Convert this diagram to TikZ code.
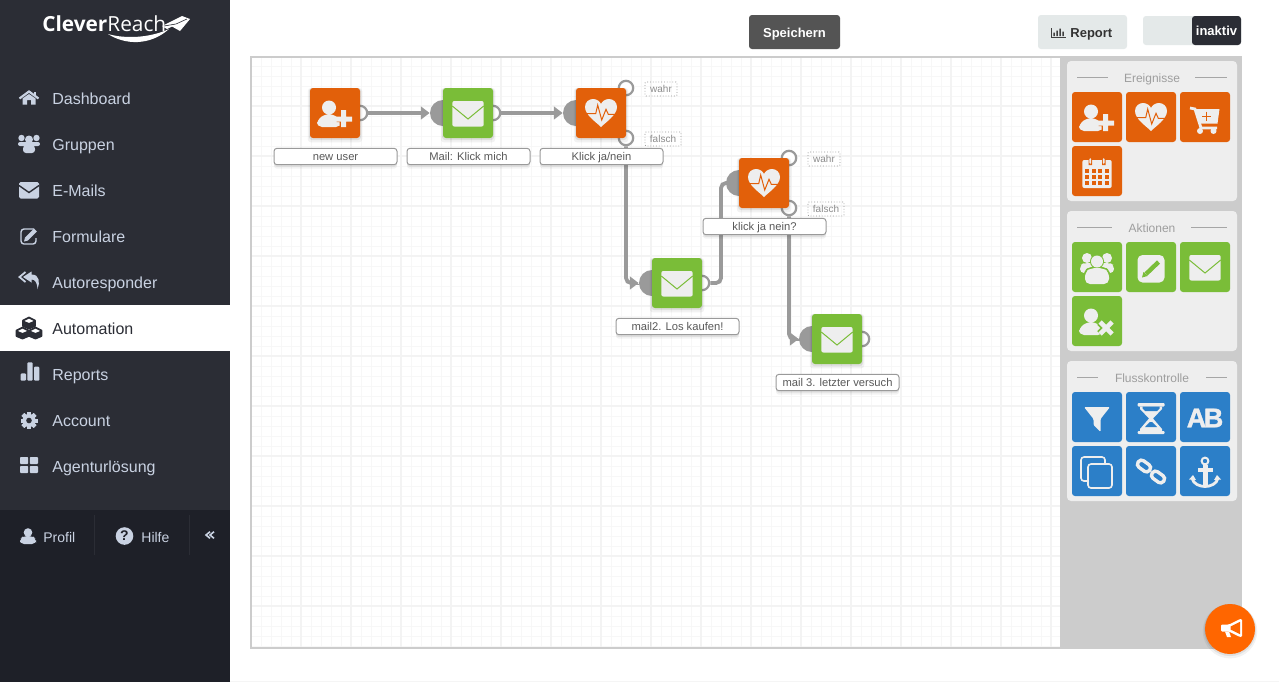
\documentclass[tikz,border=0pt]{standalone}
\usepackage{fontspec}
\setmainfont{Liberation Sans}
\newfontfamily\logofont{Open Sans}
\newfontfamily\abfont[BoldFeatures={FakeBold=1.4}]{Liberation Sans}
\usetikzlibrary{arrows.meta,shadows}

\definecolor{sidebar}{HTML}{2B2D35}
\definecolor{sidefoot}{HTML}{1E2028}
\definecolor{menutext}{HTML}{C9D2E2}
\definecolor{orangetile}{HTML}{E2600A}
\definecolor{greentile}{HTML}{7ABD38}
\definecolor{bluetile}{HTML}{2C7FC8}
\definecolor{tileink}{HTML}{EEEEEE}
\definecolor{wiregray}{HTML}{9A9A9A}
\definecolor{framegray}{HTML}{CCCCCC}
\definecolor{gridgray}{HTML}{F3F3F3}
\definecolor{gridlight}{HTML}{F7F7F7}
\definecolor{buttongray}{HTML}{E4E9E9}
\definecolor{fabcolor}{HTML}{FF6600}

\pgfdeclarelayer{page}
\pgfdeclarelayer{wires}
\pgfsetlayers{page,wires,main}

\tikzset{
    inks/.code 2 args={\colorlet{ink}{#1}\colorlet{back}{#2}},
    softshadow/.style={
        general shadow={fill=black, opacity=.05, shadow yshift=-1pt, shadow scale=1.09},
        general shadow={fill=black, opacity=.08, shadow yshift=-.5pt, shadow scale=1.04}},
    tile/.style={rectangle, rounded corners=1.5pt, minimum width=25pt, minimum height=25pt, inner sep=0pt, softshadow},
    nodelabel/.style={draw=wiregray, fill=white, rectangle, rounded corners=1.5pt, line width=.5pt, minimum width=61.5pt, minimum height=8.2pt, inner sep=0pt, text height=5pt, text depth=1pt, font=\fontsize{5.6}{6}\selectfont, text=black!65,
        general shadow={fill=black, opacity=.05, shadow yshift=-2pt, xscale=1.03, yscale=1.5},
        general shadow={fill=black, opacity=.07, shadow yshift=-1pt}},
    inport/.style={circle, fill=wiregray, minimum size=13pt, inner sep=0pt},
    outport/.style={circle, draw=wiregray, fill=white, line width=1.1pt, minimum size=7.2pt, inner sep=0pt},
    branchtag/.style={draw=black!42, densely dotted, line width=.4pt, rounded corners=.5pt, inner sep=0pt, minimum height=7pt, text height=4.5pt, text depth=1pt, font=\fontsize{5}{6}\selectfont, text=black!45},
    wire/.style={draw=wiregray, line width=1.9pt, rounded corners=2.5pt, -{Triangle[length=4.4pt,width=6.4pt]}},
    menuitem/.style={anchor=west, font=\fontsize{8}{9}\selectfont, text=menutext, inner sep=0pt, text height=7pt, text depth=1pt},
    footitem/.style={anchor=west, font=\fontsize{7}{8}\selectfont, text=menutext, inner sep=0pt, text height=6pt, text depth=1pt},
    paneltitle/.style={font=\fontsize{6}{7}\selectfont, text=black!38, inner sep=0pt, text height=5.5pt, text depth=1pt},
    panelrule/.style={draw=black!35, line width=.4pt},
    button/.style={rectangle, rounded corners=1.5pt, inner sep=0pt, text height=6pt, text depth=1pt, font=\bfseries\fontsize{6.5}{7}\selectfont},
    % tile icons
    pics/useradd/.style={code={
        \fill[ink] (-6,-5.5) circle (7);
        \fill[ink, rounded corners=2.5pt] (-18,14) -- (-18,7) -- (-10,1) -- (-2,1) -- (6,7) -- (6,14) -- cycle;
        \fill[back] (1.5,1) rectangle (15.5,9) (4.5,-2) rectangle (12.5,12);
        \fill[ink] (0,3.5) rectangle (17,8.5) (6,-3) rectangle (11,14);
    }},
    pics/userdel/.style={code={
        \fill[ink] (-6,-5.5) circle (7);
        \fill[ink, rounded corners=2.5pt] (-18,14) -- (-18,7) -- (-10,1) -- (-2,1) -- (6,7) -- (6,14) -- cycle;
        \draw[back, line width=4pt] (3,1) -- (15,13) (3,13) -- (15,1);
        \draw[ink, line width=2.3pt] (3,1) -- (15,13) (3,13) -- (15,1);
    }},
    pics/pulse/.style={code={
        \fill[ink] (0,14) .. controls (-5,9) and (-16,2) .. (-16,-6) .. controls (-16,-11) and (-12,-14) .. (-8,-14) .. controls (-4,-14) and (-1,-11.5) .. (0,-9) .. controls (1,-11.5) and (4,-14) .. (8,-14) .. controls (12,-14) and (16,-11) .. (16,-6) .. controls (16,2) and (5,9) .. (0,14) -- cycle;
        \draw[back, line width=.5pt] (-15,.7) -- (-5.3,.7) -- (-3.3,-8) -- (.7,7) -- (5,-3.7) -- (7.3,1.3) -- (15,1.3);
    }},
    pics/envelope/.style={code={
        \fill[ink, rounded corners=1pt] (-15.7,-12) rectangle (15.7,13.5);
        \draw[back, line width=.5pt] (-15.7,-7) -- (0,6) -- (15.7,-7);
    }},
    pics/cartplus/.style={code={
        \draw[ink, line width=1.4pt] (-15,-9) -- (-10,-8) -- (-4,11) -- (12,11);
        \fill[ink] (-10,-8) -- (14.5,-8) -- (12.5,6.5) -- (-5.5,6.5) -- cycle;
        \fill[ink] (-5,14) circle (3) (8.5,14) circle (3);
        \draw[back, line width=.5pt] (-3,-1) -- (6,-1) (1.5,-5.5) -- (1.5,3.5);
    }},
    pics/calendar/.style={code={
        \fill[ink, rounded corners=1pt] (-14.7,-11) rectangle (14.7,17);
        \fill[back] (-8.5,-14) rectangle (-5,-6) (5,-14) rectangle (8.5,-6);
        \fill[ink, rounded corners=.7pt] (-7.7,-13) rectangle (-5.8,-7) (5.8,-13) rectangle (7.7,-7);
        \foreach \col in {-11.8,-5.3,1.2,7.7} {
            \foreach \row in {-2,4,10} {
                \fill[back] (\col,\row) rectangle ++(4.2,4.2);
            }
        }
    }},
    pics/crowd/.style={code={
        \fill[ink] (-10,-9) circle (5) (10,-9) circle (5);
        \fill[ink, rounded corners=2pt] (-17,6) -- (-17,-2) -- (-13,-4) -- (13,-4) -- (17,-2) -- (17,6) -- cycle;
        \fill[back] (0,-5.5) circle (7);
        \fill[back, rounded corners=2.5pt] (-13.5,18) -- (-13.5,4) -- (-7,-.5) -- (7,-.5) -- (13.5,4) -- (13.5,18) -- cycle;
        \fill[ink] (0,-5.5) circle (6);
        \fill[ink, rounded corners=2.5pt] (-12,17) -- (-12,5) -- (-6,1) -- (6,1) -- (12,5) -- (12,17) -- cycle;
    }},
    pics/editbox/.style={code={
        \fill[ink, rounded corners=2.5pt] (-13.5,-12) rectangle (13.5,15.5);
        \draw[back, line width=2.2pt] (-5,7) -- (7.5,-5);
        \fill[back] (-9,10.5) -- (-7.5,5) -- (-3.5,9) -- cycle;
    }},
    pics/funnel/.style={code={
        \fill[ink, rounded corners=.6pt] (-13,-10) -- (13,-10) -- (3.5,2) -- (3.5,15) -- (-3.5,8) -- (-3.5,2) -- cycle;
    }},
    pics/hourglass/.style={code={
        \fill[ink, rounded corners=.5pt] (-13.5,-14) rectangle (13.5,-10.5) (-13.5,14) rectangle (13.5,17);
        \fill[ink] (-11,-10.5) -- (11,-10.5) -- (11,-8) -- (2,1.5) -- (11,12) -- (11,14) -- (-11,14) -- (-11,12) -- (-2,1.5) -- (-11,-8) -- cycle;
        \fill[back] (-8.5,-10.5) -- (8.5,-10.5) -- (8.5,-8.5) -- (6,-6) -- (-6,-6) -- (-8.5,-8.5) -- cycle;
        \fill[back] (-1.2,5) -- (1.2,5) -- (6,10) -- (-6,10) -- cycle;
    }},
    pics/copies/.style={code={
        \draw[ink, line width=.8pt, rounded corners=1.5pt] (-16,-14) rectangle (8,10);
        \draw[ink, fill=back, line width=.8pt, rounded corners=1.5pt] (-9,-7) rectangle (15,17);
    }},
    pics/chain/.style={code={
        \begin{scope}[shift={(-7,-5)}, rotate=-36]
            \draw[ink, line width=1.7pt, rounded corners=1.8pt] (-7,-4) rectangle (7,4);
        \end{scope}
        \begin{scope}[shift={(7,6)}, rotate=-36]
            \draw[ink, line width=1.7pt, rounded corners=1.8pt] (-7,-4) rectangle (7,4);
        \end{scope}
    }},
    pics/anchorsign/.style={code={
        \draw[ink, line width=1pt] (0,-10) circle (3.4);
        \fill[ink] (-2.5,-6) rectangle (2.5,15);
        \fill[ink] (-7.5,-3.5) rectangle (7.5,.8);
        \draw[ink, line width=1.4pt] (-13,7) .. controls (-12,13) and (-5,15.5) .. (0,15.5) .. controls (5,15.5) and (12,13) .. (13,7);
        \fill[ink] (-16,8.5) -- (-12,4) -- (-9,9) -- cycle (16,8.5) -- (12,4) -- (9,9) -- cycle;
    }},
    pics/bullhorn/.style={code={
        \fill[ink, rounded corners=.6pt] (-9,-3.5) -- (-1,-3.5) -- (10,-9) -- (12,-9) -- (12,9) -- (10,9) -- (-1,3.5) -- (-9,3.5) -- cycle;
        \fill[back] (.5,-1.5) -- (10,-6.2) -- (10,6.2) -- (.5,1.5) -- cycle;
        \fill[ink] (-5,3.5) -- (-1,3.5) -- (1,9) -- (-3,9) -- cycle;
    }},
    % menu icons
    pics/house/.style={code={
        \draw[ink, line width=1.1pt] (-9.5,.5) -- (0,-6.5) -- (9.5,.5);
        \fill[ink] (-6.5,.5) -- (0,-4) -- (6.5,.5) -- (6.5,6.5) -- (2,6.5) -- (2,2) -- (-2,2) -- (-2,6.5) -- (-6.5,6.5) -- cycle;
        \fill[ink] (4.5,-6.5) rectangle (7,-2.5);
    }},
    pics/people/.style={code={
        \fill[ink] (-7.5,-6) circle (3.2) (7.5,-6) circle (3.2) (0,-4.5) circle (4);
        \fill[ink, rounded corners=1pt] (-11,2) -- (-11,-2) -- (11,-2) -- (11,2) -- cycle;
        \fill[ink, rounded corners=1.5pt] (-6,9) -- (-6,2) -- (-3,0) -- (3,0) -- (6,2) -- (6,9) -- cycle;
    }},
    pics/letter/.style={code={
        \fill[ink, rounded corners=.8pt] (-10,-8) rectangle (10,8.5);
        \draw[back, line width=.7pt] (-10,-4.5) -- (0,2.5) -- (10,-4.5);
    }},
    pics/editform/.style={code={
        \draw[ink, line width=.7pt, rounded corners=1.5pt] (5,-7) -- (-8,-7) -- (-8,8) -- (7,8) -- (7,2);
        \draw[ink, line width=2pt] (-2.5,3) -- (6.5,-6);
        \fill[ink] (-5,5.5) -- (-4,1.5) -- (-1,4.5) -- cycle;
    }},
    pics/replyall/.style={code={
        \draw[ink, line width=.9pt] (-3.5,-9) -- (-9.5,-4) -- (-3.5,1);
        \fill[ink] (2.5,-9.5) -- (-6,-4) -- (2.5,1.5) -- (2.5,-1.5) .. controls (6,-1.5) and (8,1) .. (8.5,8) .. controls (11,2) and (11,-6.5) .. (2.5,-6.5) -- cycle;
    }},
    pics/cubes/.style={code={
        \foreach \cx/\cy in {0/-5, -6.5/5, 6.5/5} {
            \draw[ink, fill=back, line width=.9pt, line join=round, shift={(\cx,\cy)}] (0,-5.5) -- (6,-2.5) -- (6,3) -- (0,5.5) -- (-6,3) -- (-6,-2.5) -- cycle;
            \fill[ink, shift={(\cx,\cy)}] (0,0) -- (6,-2.5) -- (6,3) -- (0,5.5) -- (-6,3) -- (-6,-2.5) -- cycle;
        }
    }},
    pics/bars/.style={code={
        \fill[ink, rounded corners=.5pt] (-8.3,-.7) rectangle (-3,6.7) (-1.7,-11.7) rectangle (3.7,6.7) (5,-7.3) rectangle (10.3,6.7);
    }},
    pics/gear/.style={code={
        \foreach \ang in {0,45,...,315} {
            \fill[ink, rotate=\ang] (-2,-8.5) rectangle (2,8.5);
        }
        \fill[ink] (0,0) circle (6.6);
        \fill[back] (0,0) circle (2.8);
    }},
    pics/squares/.style={code={
        \fill[ink, rounded corners=.4pt] (-9,-8) rectangle (-.8,-1) (.8,-8) rectangle (9,-1) (-9,1) rectangle (-.8,8) (.8,1) rectangle (9,8);
    }},
    pics/profile/.style={code={
        \fill[ink] (0,-3.5) circle (4.3);
        \fill[ink, rounded corners=2pt] (-8,8) -- (-8,3) -- (-4.5,0) -- (4.5,0) -- (8,3) -- (8,8) -- cycle;
    }},
    pics/backchevrons/.style={code={
        \draw[ink, line width=.8pt] (0,-3.3) -- (-4,0) -- (0,3.3) (4,-3.3) -- (0,0) -- (4,3.3);
    }},
    pics/smallchart/.style={code={
        \draw[ink, line width=.5pt] (-7,-4.5) -- (-7,4.5) -- (7,4.5);
        \fill[ink] (-5.2,0) rectangle (-3.6,3.6) (-2.2,-2) rectangle (-.6,3.6) (.8,-4) rectangle (2.4,3.6) (3.8,-1) rectangle (5.4,3.6);
    }},
}

\begin{document}
\begin{tikzpicture}[x=.5pt, y=-.5pt]
    \useasboundingbox (0,0) rectangle (1279,682);

    \begin{pgfonlayer}{page}
        % Sidebar and page frame
        \fill[white] (0,0) rectangle (1279,682);
        \fill[sidebar] (0,0) rectangle (230,682);
        \fill[sidefoot] (0,510) rectangle (230,682);
        \fill[white] (0,305) rectangle (230,351);
        \draw[sidebar, line width=.4pt] (94.5,515) -- (94.5,555) (189.5,515) -- (189.5,555);
        \fill[black!4] (230,681) rectangle (1279,682);

        % Canvas with its grid
        \fill[framegray] (250,56) rectangle (1242,649);
        \fill[white] (252,58) rectangle (1060,647);
        \begin{scope}
            \clip (252,58) rectangle (1060,647);
            \foreach \gx in {261,271,...,1060} {
                \draw[gridlight, line width=.45pt] (\gx,58) -- (\gx,647);
            }
            \foreach \gy in {66,76,...,647} {
                \draw[gridlight, line width=.45pt] (252,\gy) -- (1060,\gy);
            }
            \foreach \gx in {301,351,...,1060} {
                \draw[gridgray, line width=.9pt] (\gx,58) -- (\gx,647);
            }
            \foreach \gy in {106,156,...,647} {
                \draw[gridgray, line width=.9pt] (252,\gy) -- (1060,\gy);
            }
        \end{scope}

        % Panels on the right
        \fill[tileink, rounded corners=2pt] (1067,61) rectangle (1237,201);
        \fill[tileink, rounded corners=2pt] (1067,211) rectangle (1237,351);
        \fill[tileink, rounded corners=2pt] (1067,361) rectangle (1237,501);
        \draw[panelrule] (1077,77.5) -- (1108,77.5) (1195,77.5) -- (1227,77.5);
        \draw[panelrule] (1077,227.5) -- (1112,227.5) (1191,227.5) -- (1227,227.5);
        \draw[panelrule] (1077,377.5) -- (1098,377.5) (1206,377.5) -- (1227,377.5);
    \end{pgfonlayer}

    % Logo
    \node[anchor=west, inner sep=0pt, text=white, font=\logofont\fontsize{10.4}{11}\selectfont] (logo) at (42,24) {\textbf{Clever}Reach};
    \fill[white] (108,34) .. controls (125,45) and (150,46) .. (169,29) .. controls (150,38) and (125,39) .. (108,34) -- cycle;
    \fill[white] (162,26) -- (182,16) -- (190,19) -- (180,31) -- (172,26.5) -- (167,29) -- cycle;
    \draw[sidebar, line width=.3pt] (164,26) -- (176,24) -- (187,19);

    % Menu
    \pic[inks={menutext}{sidebar}] at (29,98) {house};
    \pic[inks={menutext}{sidebar}] at (29,144) {people};
    \pic[inks={menutext}{sidebar}] at (29,190) {letter};
    \pic[inks={menutext}{sidebar}] at (29,236) {editform};
    \pic[inks={menutext}{sidebar}] at (29,281) {replyall};
    \pic[inks={sidebar}{white}] at (29,328) {cubes};
    \pic[inks={menutext}{sidebar}] at (29,374) {bars};
    \pic[inks={menutext}{sidebar}] at (29,420.5) {gear};
    \pic[inks={menutext}{sidebar}] at (29,465) {squares};
    \node[menuitem] (dashboard) at (52,98) {Dashboard};
    \node[menuitem] (gruppen) at (52,144) {Gruppen};
    \node[menuitem] (emails) at (52,190) {E-Mails};
    \node[menuitem] (formulare) at (52,236) {Formulare};
    \node[menuitem] (autoresponder) at (52,282) {Autoresponder};
    \node[menuitem, text=sidebar] (automation) at (52,328) {Automation};
    \node[menuitem] (reports) at (52,374) {Reports};
    \node[menuitem] (account) at (52,420) {Account};
    \node[menuitem] (agentur) at (52,466) {Agenturlösung};

    % Sidebar footer
    \pic[inks={menutext}{sidefoot}] at (28,536) {profile};
    \node[footitem] (profil) at (43,537) {Profil};
    \node[circle, fill=menutext, minimum size=8.8pt, inner sep=0pt, text=sidefoot, font=\bfseries\fontsize{7}{8}\selectfont] (helpmark) at (124.5,536) {?};
    \node[footitem] (hilfe) at (141,537) {Hilfe};
    \pic[inks={menutext}{sidefoot}] at (210,535) {backchevrons};

    % Top buttons
    \node[button, fill=black!67, text=white, minimum width=45.5pt, minimum height=17pt] (speichern) at (794.5,32) {Speichern};
    \node[button, fill=buttongray, minimum width=44.5pt, minimum height=17pt] (reportbtn) at (1082.5,32) {};
    \pic[inks={black!75}{white}] at (1058.5,32.5) {smallchart};
    \node[anchor=west, inner sep=0pt, text height=6pt, text depth=1pt, text=black!80, font=\bfseries\fontsize{6.5}{7}\selectfont] (reporttext) at (1070,32) {Report};
    \node[button, fill=buttongray, minimum width=49pt, minimum height=14.5pt] (togglebase) at (1192,30.5) {};
    \fill[sidebar, rounded corners=1.5pt] (1192,16) rectangle (1241,45);
    \node[inner sep=0pt, text height=6pt, text depth=1pt, text=white, font=\bfseries\fontsize{6.5}{7}\selectfont] (inaktiv) at (1216.5,30) {inaktiv};

    % Input and output dots
    \node[outport] (outuser) at (360,113) {};
    \node[inport] (inmail1) at (443,113) {};
    \node[outport] (outmail1) at (493,113) {};
    \node[inport] (inheart1) at (576,113) {};
    \node[outport] (trueheart1) at (626,88) {};
    \node[outport] (falseheart1) at (626,138) {};
    \node[inport] (inmail2) at (652,283) {};
    \node[outport] (outmail2) at (702,283) {};
    \node[inport] (inheart2) at (739,183) {};
    \node[outport] (trueheart2) at (789,158) {};
    \node[outport] (falseheart2) at (789,208) {};
    \node[inport] (inmail3) at (812,339) {};
    \node[outport] (outmail3) at (862,339) {};
    \coordinate (bend) at (721,233);

    % Draw the connections
    \begin{pgfonlayer}{wires}
        \draw[wire] (outuser.east) -- (inmail1.west);
        \draw[wire] (outmail1.east) -- (inheart1.west);
        \draw[wire] (falseheart1.south) |- (inmail2.west);
        \draw[wire] (outmail2.east) -| (bend) |- (inheart2.west);
        \draw[wire] (falseheart2.south) |- (inmail3.west);
    \end{pgfonlayer}

    % Draw the flow cells
    \node[tile, fill=orangetile] (newuser) at (335,113) {};
    \node[tile, fill=greentile] (mail1) at (468,113) {};
    \node[tile, fill=orangetile] (heart1) at (601,113) {};
    \node[tile, fill=greentile] (mail2) at (677,283) {};
    \node[tile, fill=orangetile] (heart2) at (764,183) {};
    \node[tile, fill=greentile] (mail3) at (837,339) {};
    \pic[inks={tileink}{orangetile}] at (335,113) {useradd};
    \pic[inks={tileink}{greentile}] at (468,113) {envelope};
    \pic[inks={tileink}{orangetile}] at (601,113) {pulse};
    \pic[inks={tileink}{greentile}] at (677,283) {envelope};
    \pic[inks={tileink}{orangetile}] at (764,183) {pulse};
    \pic[inks={tileink}{greentile}] at (837,339) {envelope};

    % Add the captions
    \node[nodelabel] (labeluser) at (335.5,156.5) {new user};
    \node[nodelabel] (labelmail1) at (468.5,156.5) {Mail: Klick mich};
    \node[nodelabel] (labelheart1) at (601.5,156.5) {Klick ja/nein};
    \node[nodelabel] (labelmail2) at (677.5,326.5) {mail2. Los kaufen!};
    \node[nodelabel] (labelheart2) at (764.5,226.5) {klick ja nein?};
    \node[nodelabel] (labelmail3) at (837.5,382.5) {mail 3. letzter versuch};
    \node[branchtag, minimum width=16pt] (wahr1) at (661,89) {wahr};
    \node[branchtag, minimum width=18pt] (falsch1) at (663,139) {falsch};
    \node[branchtag, minimum width=16pt] (wahr2) at (824,159) {wahr};
    \node[branchtag, minimum width=18pt] (falsch2) at (826,209) {falsch};

    % Panel titles
    \node[paneltitle] (ereignisse) at (1152,77.5) {Ereignisse};
    \node[paneltitle] (aktionen) at (1152,227.5) {Aktionen};
    \node[paneltitle] (fluss) at (1152,377.5) {Flusskontrolle};

    % Panel cells
    \fill[orangetile, rounded corners=1.5pt] (1072,92) rectangle ++(50,50) (1126,92) rectangle ++(50,50) (1180,92) rectangle ++(50,50) (1072,146) rectangle ++(50,50);
    \fill[greentile, rounded corners=1.5pt] (1072,242) rectangle ++(50,50) (1126,242) rectangle ++(50,50) (1180,242) rectangle ++(50,50) (1072,296) rectangle ++(50,50);
    \fill[bluetile, rounded corners=1.5pt] (1072,392) rectangle ++(50,50) (1126,392) rectangle ++(50,50) (1180,392) rectangle ++(50,50) (1072,446) rectangle ++(50,50) (1126,446) rectangle ++(50,50) (1180,446) rectangle ++(50,50);
    \pic[inks={tileink}{orangetile}] at (1097,117) {useradd};
    \pic[inks={tileink}{orangetile}] at (1151,117) {pulse};
    \pic[inks={tileink}{orangetile}] at (1205,117) {cartplus};
    \pic[inks={tileink}{orangetile}] at (1097,171) {calendar};
    \pic[inks={tileink}{greentile}] at (1097,267) {crowd};
    \pic[inks={tileink}{greentile}] at (1151,267) {editbox};
    \pic[inks={tileink}{greentile}] at (1205,267) {envelope};
    \pic[inks={tileink}{greentile}] at (1097,321) {userdel};
    \pic[inks={tileink}{bluetile}] at (1097,417) {funnel};
    \pic[inks={tileink}{bluetile}] at (1151,417) {hourglass};
    \node[inner sep=0pt, text=tileink, font=\abfont\bfseries\fontsize{13.5}{14}\selectfont] (abmark) at (1205,418) {A\kern-1.2pt B};
    \pic[inks={tileink}{bluetile}] at (1097,471) {copies};
    \pic[inks={tileink}{bluetile}] at (1151,471) {chain};
    \pic[inks={tileink}{bluetile}] at (1205,471) {anchorsign};

    % Round button
    \node[circle, fill=fabcolor, minimum size=25pt, inner sep=0pt, softshadow] (fab) at (1230,629) {};
    \pic[inks={white}{fabcolor}] at (1230,628) {bullhorn};
\end{tikzpicture}
\end{document}
